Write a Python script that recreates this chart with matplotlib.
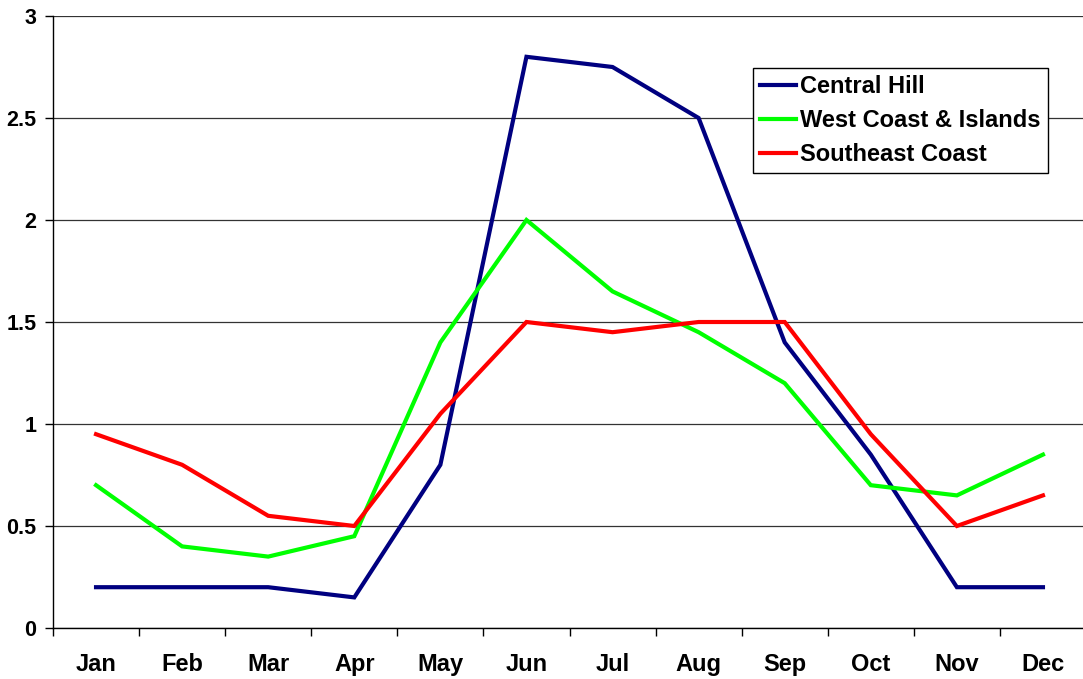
import matplotlib
matplotlib.use("Agg")
import matplotlib.pyplot as plt
import numpy as np

months = ["Jan", "Feb", "Mar", "Apr", "May", "Jun", "Jul", "Aug", "Sep", "Oct", "Nov", "Dec"]
central_hill = [0.2, 0.2, 0.2, 0.15, 0.8, 2.8, 2.75, 2.5, 1.4, 0.85, 0.2, 0.2]
west_coast = [0.7, 0.4, 0.35, 0.45, 1.4, 2.0, 1.65, 1.45, 1.2, 0.7, 0.65, 0.85]
southeast = [0.95, 0.8, 0.55, 0.5, 1.05, 1.5, 1.45, 1.5, 1.5, 0.95, 0.5, 0.65]
yticks = [0, 0.5, 1, 1.5, 2, 2.5, 3]
ytick_labels = ["0", "0.5", "1", "1.5", "2", "2.5", "3"]

plt.rcParams['font.family'] = ['Liberation Sans', 'DejaVu Sans']
plt.rcParams['font.weight'] = 'bold'

fig = plt.figure(figsize=(10.83, 6.79), dpi=100)
ax = fig.add_axes([53/1083, 51/679, 1033/1083, 612/679])

x = np.arange(len(months))
ax.plot(x, central_hill, color="#000080", lw=3, label="Central Hill", solid_joinstyle='miter')
ax.plot(x, west_coast, color="#00FF00", lw=3, label="West Coast & Islands", solid_joinstyle='miter')
ax.plot(x, southeast, color="#FF0000", lw=3, label="Southeast Coast", solid_joinstyle='miter')

ax.set_xlim(-0.5, 11.5)
ax.set_ylim(0, 3)
ax.set_yticks(yticks)
ax.set_yticklabels(ytick_labels, fontsize=15.5, fontweight='bold')
ax.yaxis.grid(True, color="#333333", lw=0.9)
ax.set_axisbelow(True)

ax.set_xticks(x)
ax.set_xticklabels(months, fontsize=17, fontweight='bold')
ax.set_xticks(np.arange(-0.5, 12, 1), minor=True)
ax.tick_params(axis='x', which='major', length=0, pad=18)
ax.tick_params(axis='x', which='minor', length=6, direction='out', width=1)
ax.tick_params(axis='y', length=5.5, direction='out', width=1, pad=6.5)

for s in ['top', 'right']:
    ax.spines[s].set_visible(False)
for s in ['left', 'bottom']:
    ax.spines[s].set_linewidth(1)
    ax.spines[s].set_color('black')

leg = ax.legend(loc='upper left', bbox_to_anchor=((753-53)/1033, (628-68)/612),
                borderaxespad=0, fancybox=False, edgecolor='black', framealpha=1,
                prop={'size': 17, 'weight': 'bold'}, handlelength=1.5,
                handletextpad=0.2, borderpad=0.3, labelspacing=0.46)
leg.get_frame().set_linewidth(1)

fig.savefig("out.png", dpi=100)
